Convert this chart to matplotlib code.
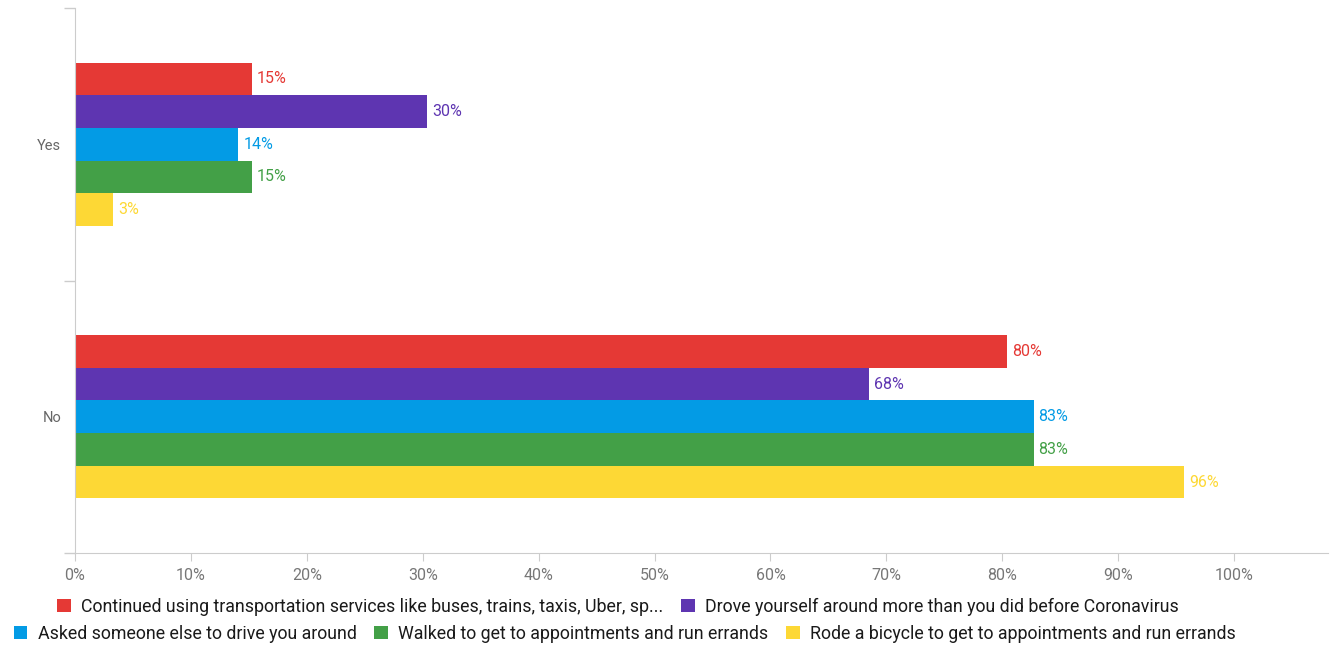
import matplotlib.pyplot as plt
from matplotlib.patches import Patch
import numpy as np

#
# Data
#

categories = ["Yes", "No"]
series = [
    "Continued using transportation services like buses, trains, taxis, Uber, sp...",
    "Drove yourself around more than you did before Coronavirus",
    "Asked someone else to drive you around",
    "Walked to get to appointments and run errands",
    "Rode a bicycle to get to appointments and run errands",
]
values = [
    [15.3, 80.4],    # transportation services
    [30.4, 68.5],    # drove yourself
    [14.1, 82.7],    # asked someone else
    [15.3, 82.7],    # walked
    [3.3, 95.7],     # bicycle
]
labels = [
    ["15%", "80%"],
    ["30%", "68%"],
    ["14%", "83%"],
    ["15%", "83%"],
    ["3%", "96%"],
]
colors = ["#E53935", "#5E35B1", "#039BE5", "#43A047", "#FDD835"]
xticks = [0, 10, 20, 30, 40, 50, 60, 70, 80, 90, 100]

#
# Plot
#

plt.rcParams['font.family'] = ['Roboto', 'DejaVu Sans']

fig = plt.figure(figsize=(13.41, 6.47), dpi=100)
ax = fig.add_axes([0.0559, 0.1453, 0.9344, 0.8423])

bar_h = 0.12
ypos = np.arange(len(categories))
for i, (vals, labs, col) in enumerate(zip(values, labels, colors)):
    y = ypos + (i - 2) * bar_h
    ax.barh(y, vals, height=bar_h, color=col)
    for yy, v, lab in zip(y, vals, labs):
        ax.annotate(lab, (v, yy), xytext=(3.5, 0), textcoords="offset points",
                    va="center", ha="left", color=col, fontsize=11.5)

ax.set_xlim(0, 108.1)
ax.set_ylim(1.5, -0.5)
ax.set_xticks(xticks)
ax.set_xticklabels(["{}%".format(t) for t in xticks])
ax.set_yticks([-0.5, 0.5, 1.5])
ax.set_yticklabels([])
ax.set_yticks(ypos, minor=True)
ax.set_yticklabels(categories, minor=True)
ax.tick_params(axis="y", which="major", length=8, color="#cccccc", width=1)
ax.tick_params(axis="y", which="minor", length=0, pad=10, labelcolor="#666666", labelsize=10.5)
ax.tick_params(axis="x", length=6, color="#cccccc", labelcolor="#777777", labelsize=11.5, pad=5)

for s in ["top", "right"]:
    ax.spines[s].set_visible(False)
for s in ["left", "bottom"]:
    ax.spines[s].set_color("#cccccc")

handles = [Patch(facecolor=c, edgecolor="none") for c in colors]
leg_kw = dict(frameon=False, fontsize=12.8, handlelength=0.75, handleheight=0.75,
              handletextpad=0.6, columnspacing=1.0, borderpad=0, labelcolor="#1a1a1a")
leg1 = fig.legend(handles[:2], series[:2], loc="center", ncol=2,
                  bbox_to_anchor=(0.461, 0.062), **leg_kw)
leg2 = fig.legend(handles[2:], series[2:], loc="center", ncol=3,
                  bbox_to_anchor=(0.466, 0.020), **leg_kw)

plt.savefig("out.png")
